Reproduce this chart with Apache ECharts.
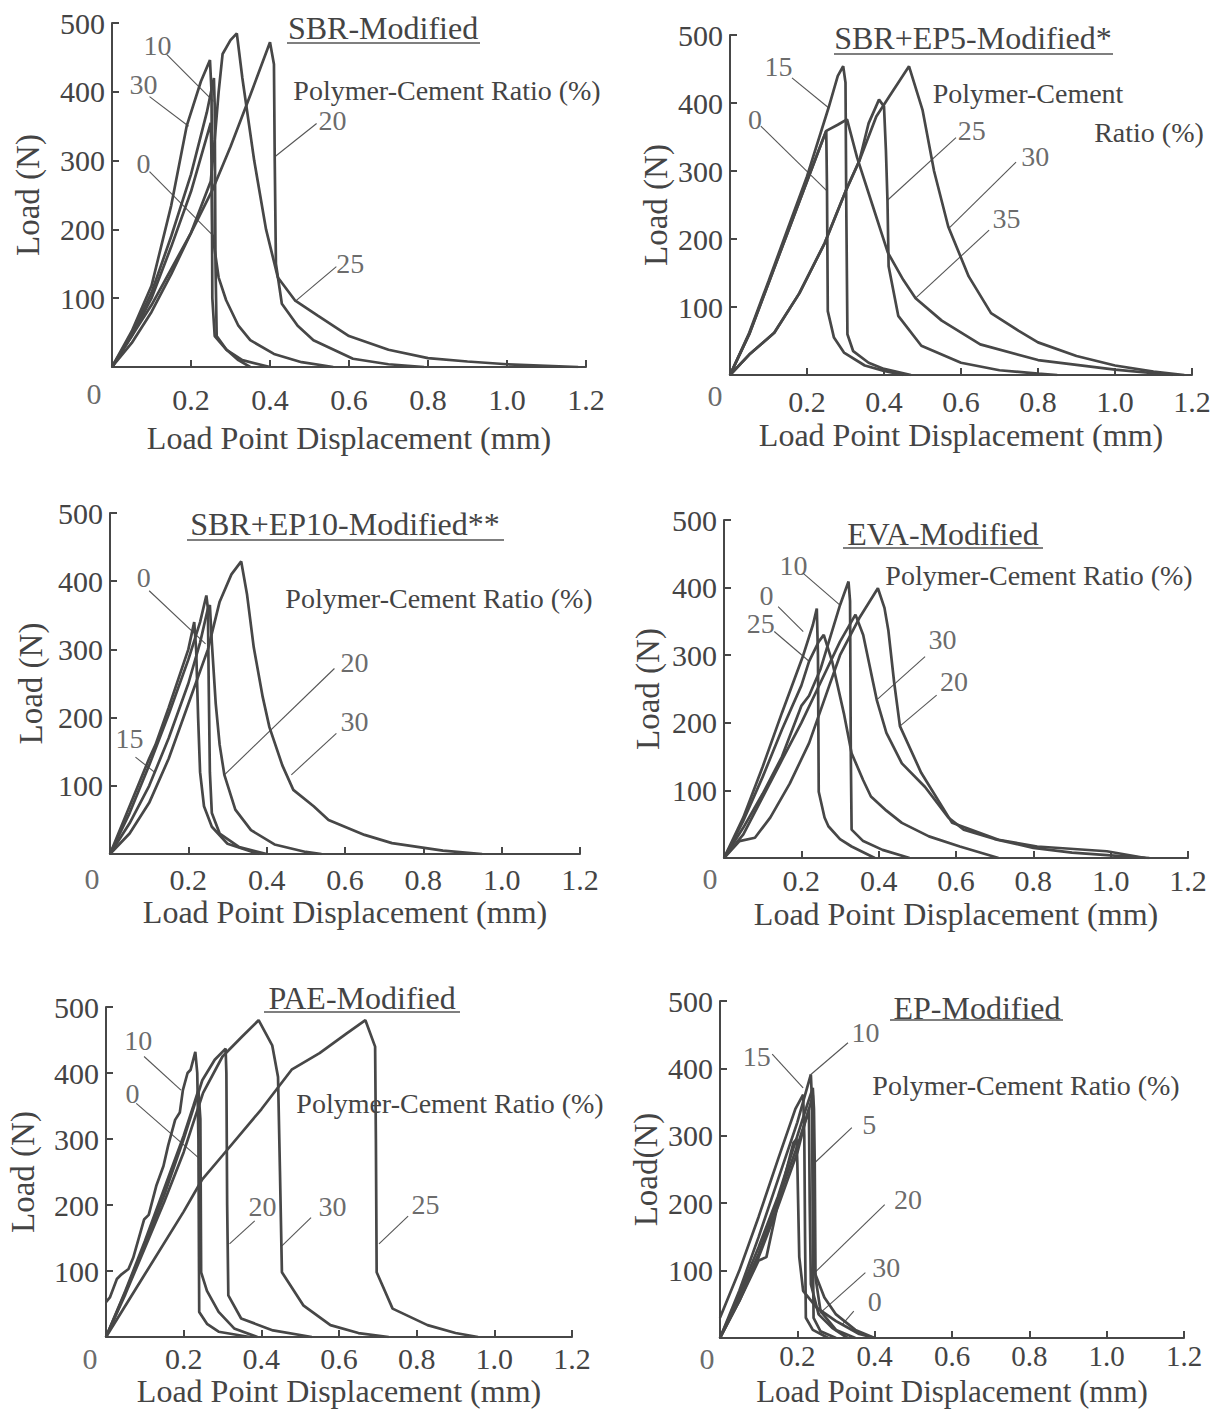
<!DOCTYPE html>
<html><head><meta charset="utf-8">
<script src="https://cdn.jsdelivr.net/npm/echarts@6/dist/echarts.min.js"></script>
<style>html,body{margin:0;padding:0;background:#fff}#c{width:1219px;height:1411px}</style>
</head><body><div id="c"></div>
<script>
// ---------- DATA ----------
const xTicks = [0, 0.2, 0.4, 0.6, 0.8, 1.0, 1.2];
const yTicks = [0, 100, 200, 300, 400, 500];
const titles = ['SBR-Modified', 'SBR+EP5-Modified*', 'SBR+EP10-Modified**', 'EVA-Modified', 'PAE-Modified', 'EP-Modified'];
const yNames = ['Load (N)', 'Load (N)', 'Load (N)', 'Load (N)', 'Load (N)', 'Load(N)'];
const xName = 'Load Point Displacement (mm)';
const ratioTexts = [['Polymer-Cement Ratio (%)'], ['Polymer-Cement', 'Ratio (%)'], ['Polymer-Cement Ratio (%)'], ['Polymer-Cement Ratio (%)'], ['Polymer-Cement Ratio (%)'], ['Polymer-Cement Ratio (%)']];

// Panel 1: SBR-Modified  [displacement mm, load N]
const sbr0  = [[0,0],[0.05,45],[0.1,100],[0.15,175],[0.2,255],[0.24,335],[0.25,355],[0.252,300],[0.254,194],[0.27,130],[0.289,97],[0.32,60],[0.35,39],[0.41,19],[0.48,7],[0.56,0]];
const sbr10 = [[0,0],[0.05,48],[0.1,108],[0.15,190],[0.2,280],[0.24,370],[0.258,420],[0.26,380],[0.262,150],[0.265,45],[0.29,25],[0.33,10],[0.4,0]];
const sbr20 = [[0,0],[0.1,90],[0.2,195],[0.254,257],[0.3,320],[0.35,395],[0.4,472],[0.41,440],[0.412,300],[0.415,150],[0.43,92],[0.47,60],[0.51,39],[0.61,12],[0.7,4],[0.79,0]];
const sbr25 = [[0,0],[0.05,35],[0.1,80],[0.15,135],[0.2,195],[0.25,270],[0.26,330],[0.27,400],[0.28,455],[0.3,475],[0.316,485],[0.33,420],[0.36,300],[0.39,200],[0.42,130],[0.463,97],[0.52,75],[0.6,45],[0.7,25],[0.8,13],[0.9,8],[1.0,4],[1.18,0]];
const sbr30 = [[0,0],[0.05,52],[0.1,118],[0.15,235],[0.189,350],[0.225,415],[0.248,446],[0.252,400],[0.254,100],[0.26,45],[0.29,25],[0.32,10],[0.35,0]];
const sbrNotes = [['10',0.115,468,0.139,454,0.257,386],['30',0.08,410,0.095,393,0.194,350],['0',0.08,296,0.095,284,0.254,192],['20',0.558,359,0.518,354,0.413,306],['25',0.603,150,0.568,146,0.463,95]];

// Panel 2: SBR+EP5-Modified*
const ep5_0  = [[0,0],[0.05,60],[0.1,135],[0.15,210],[0.2,285],[0.24,345],[0.25,359],[0.252,271],[0.254,94],[0.27,55],[0.296,33],[0.35,14],[0.4,6],[0.45,0]];
const ep5_15 = [[0,0],[0.05,62],[0.1,138],[0.15,215],[0.2,292],[0.256,393],[0.28,440],[0.294,454],[0.3,430],[0.302,250],[0.305,60],[0.32,35],[0.36,18],[0.4,9],[0.47,0]];
const ep5_25 = [[0,0],[0.05,30],[0.115,62],[0.18,120],[0.246,194],[0.3,270],[0.336,315],[0.36,370],[0.387,405],[0.4,395],[0.405,330],[0.409,257],[0.412,160],[0.437,87],[0.497,43],[0.6,18],[0.7,7],[0.8,2],[0.85,0]];
const ep5_30 = [[0,0],[0.05,30],[0.115,62],[0.18,120],[0.246,194],[0.3,270],[0.336,315],[0.38,380],[0.42,415],[0.465,454],[0.5,390],[0.53,300],[0.567,218],[0.62,145],[0.678,91],[0.75,65],[0.8,48],[0.9,28],[1.0,14],[1.1,5],[1.18,0]];
const ep5_35 = [[0,0],[0.05,60],[0.1,135],[0.15,210],[0.2,285],[0.25,359],[0.28,368],[0.304,376],[0.33,320],[0.37,250],[0.41,180],[0.45,140],[0.482,113],[0.55,80],[0.65,45],[0.8,22],[1.0,8],[1.15,0]];
const ep5Notes = [['15',0.126,454,0.161,437,0.256,393],['0',0.065,376,0.08,366,0.251,271],['25',0.628,359,0.587,349,0.409,257],['30',0.793,322,0.743,313,0.567,215],['35',0.718,230,0.673,213,0.482,113]];

// Panel 3: SBR+EP10-Modified**
const ep10_0  = [[0,0],[0.05,60],[0.1,130],[0.15,205],[0.2,285],[0.23,340],[0.246,379],[0.25,360],[0.252,250],[0.255,120],[0.26,60],[0.28,30],[0.33,10],[0.4,0]];
const ep10_15 = [[0,0],[0.05,70],[0.1,140],[0.116,160],[0.15,215],[0.2,300],[0.215,340],[0.22,300],[0.225,200],[0.23,120],[0.24,70],[0.26,40],[0.3,15],[0.38,0]];
const ep10_20 = [[0,0],[0.05,45],[0.1,100],[0.15,170],[0.2,250],[0.23,310],[0.25,360],[0.255,365],[0.26,310],[0.27,220],[0.28,160],[0.292,116],[0.32,65],[0.36,35],[0.42,14],[0.5,3],[0.54,0]];
const ep10_30 = [[0,0],[0.05,30],[0.1,75],[0.15,140],[0.2,220],[0.25,300],[0.28,370],[0.31,410],[0.335,429],[0.35,380],[0.367,303],[0.39,230],[0.407,186],[0.44,130],[0.468,94],[0.52,70],[0.558,50],[0.65,28],[0.72,16],[0.85,5],[0.95,0]];
const ep10Notes = [['0',0.086,406,0.1,386,0.244,308],['15',0.05,169,0.065,142,0.116,119],['20',0.624,281,0.573,272,0.292,116],['30',0.624,194,0.578,177,0.463,116]];

// Panel 4: EVA-Modified
const eva0  = [[0,0],[0.05,60],[0.1,135],[0.15,215],[0.205,300],[0.23,345],[0.24,369],[0.243,300],[0.245,98],[0.26,60],[0.27,47],[0.3,28],[0.33,17],[0.39,0]];
const eva10 = [[0,0],[0.05,45],[0.1,95],[0.15,150],[0.2,225],[0.22,240],[0.25,280],[0.3,374],[0.322,409],[0.326,380],[0.328,150],[0.33,42],[0.36,25],[0.41,12],[0.48,0]];
const eva20 = [[0,0],[0.04,25],[0.08,30],[0.12,60],[0.17,110],[0.22,170],[0.26,235],[0.3,300],[0.35,355],[0.398,399],[0.415,370],[0.425,337],[0.44,260],[0.455,195],[0.51,126],[0.59,52],[0.71,27],[0.81,17],[0.99,10],[1.09,0]];
const eva25 = [[0,0],[0.05,55],[0.1,120],[0.15,190],[0.2,255],[0.22,291],[0.245,320],[0.258,330],[0.28,290],[0.31,214],[0.33,155],[0.36,115],[0.38,91],[0.42,70],[0.46,52],[0.53,32],[0.61,17],[0.71,0]];
const eva30 = [[0,0],[0.05,35],[0.1,90],[0.15,145],[0.2,200],[0.25,260],[0.3,320],[0.34,360],[0.36,330],[0.38,275],[0.395,234],[0.42,185],[0.46,140],[0.52,105],[0.58,60],[0.62,42],[0.7,28],[0.8,15],[0.9,8],[1.0,4],[1.1,0]];
const evaNotes = [['10',0.18,433,0.205,421,0.3,374],['0',0.11,389,0.14,372,0.205,335],['25',0.095,347,0.13,335,0.22,291],['30',0.565,323,0.52,298,0.395,234],['20',0.595,261,0.55,241,0.455,195]];

// Panel 5: PAE-Modified
const pae0  = [[0,0],[0.05,70],[0.1,145],[0.15,225],[0.2,305],[0.225,350],[0.238,374],[0.243,330],[0.245,98],[0.26,70],[0.29,38],[0.33,13],[0.39,0]];
const pae10 = [[0,53],[0.01,60],[0.028,88],[0.04,95],[0.058,103],[0.07,120],[0.098,178],[0.11,185],[0.13,230],[0.148,259],[0.16,290],[0.178,329],[0.19,340],[0.198,374],[0.21,400],[0.218,405],[0.23,432],[0.235,400],[0.238,300],[0.24,38],[0.26,20],[0.29,8],[0.37,0]];
const pae20 = [[0,0],[0.05,68],[0.1,140],[0.15,215],[0.2,300],[0.248,389],[0.28,420],[0.308,437],[0.31,400],[0.312,200],[0.315,63],[0.348,28],[0.43,10],[0.53,0]];
const pae25 = [[0,0],[0.1,95],[0.2,190],[0.248,239],[0.3,275],[0.4,345],[0.478,405],[0.55,430],[0.62,460],[0.668,480],[0.693,440],[0.695,300],[0.697,98],[0.738,43],[0.828,18],[0.9,6],[0.958,0]];
const pae30 = [[0,0],[0.05,65],[0.1,135],[0.15,205],[0.2,280],[0.25,370],[0.3,425],[0.35,455],[0.393,480],[0.428,442],[0.443,394],[0.448,250],[0.453,98],[0.508,48],[0.578,18],[0.65,6],[0.728,0]];
const paeNotes = [['10',0.083,450,0.098,425,0.193,374],['0',0.068,369,0.078,354,0.243,269],['20',0.403,198,0.383,176,0.318,141],['30',0.583,198,0.528,181,0.453,138],['25',0.823,201,0.778,183,0.703,141]];

// Panel 6: EP-Modified
const epm0  = [[0,0],[0.05,55],[0.1,115],[0.12,120],[0.15,200],[0.19,290],[0.198,295],[0.2,260],[0.205,120],[0.215,70],[0.25,45],[0.3,25],[0.316,20],[0.36,6],[0.4,0]];
const epm5  = [[0,0],[0.05,65],[0.1,135],[0.15,210],[0.2,300],[0.225,345],[0.24,371],[0.243,340],[0.245,260],[0.247,90],[0.26,40],[0.3,12],[0.35,0]];
const epm10 = [[0,0],[0.05,70],[0.1,150],[0.15,235],[0.2,320],[0.235,391],[0.238,350],[0.24,150],[0.242,30],[0.26,10],[0.3,0]];
const epm15 = [[0,30],[0.05,100],[0.1,180],[0.15,265],[0.195,340],[0.215,361],[0.218,300],[0.22,150],[0.222,30],[0.24,12],[0.28,0]];
const epm20 = [[0,0],[0.05,60],[0.1,125],[0.15,205],[0.2,285],[0.228,335],[0.24,360],[0.243,200],[0.245,97],[0.27,60],[0.3,35],[0.35,12],[0.4,0]];
const epm30 = [[0,0],[0.05,55],[0.1,120],[0.15,195],[0.2,275],[0.22,320],[0.23,340],[0.232,200],[0.235,80],[0.255,35],[0.29,15],[0.33,0]];
const epmNotes = [['15',0.095,418,0.135,421,0.215,371],['10',0.376,453,0.331,438,0.235,391],['5',0.386,317,0.341,312,0.245,260],['20',0.486,205,0.426,198,0.245,97],['30',0.43,104,0.376,97,0.255,35],['0',0.4,54,0.346,40,0.316,20]];

const panelCurves = [
  [sbr0, sbr10, sbr20, sbr25, sbr30],
  [ep5_0, ep5_15, ep5_25, ep5_30, ep5_35],
  [ep10_0, ep10_15, ep10_20, ep10_30],
  [eva0, eva10, eva20, eva25, eva30],
  [pae0, pae10, pae20, pae25, pae30],
  [epm0, epm5, epm10, epm15, epm20, epm30]
];
const panelNotes = [sbrNotes, ep5Notes, ep10Notes, evaNotes, paeNotes, epmNotes];

// ---------- LAYOUT / STYLE ----------
const FONT = '"Liberation Serif","Times New Roman",serif';
const INK = '#474747';
const TXT = '#444';
const layout = [
  {left:112, top:23,   width:474, height:344, xNameGap:55, yNameGap:68, xLabelMargin:17, zero:[-18,26], title:[383,28,287,480,43],  ratio:[[447,90]]},
  {left:730, top:35,   width:462, height:340, xNameGap:44, yNameGap:58, xLabelMargin:11, zero:[-15,20], title:[973,38,834,1113,54], ratio:[[1028,93],[1149,132]]},
  {left:110, top:513,  width:470, height:341, xNameGap:42, yNameGap:63, xLabelMargin:10, zero:[-18,24], title:[345,524,187,504,540], ratio:[[439,598]]},
  {left:724, top:520,  width:464, height:338, xNameGap:40, yNameGap:60, xLabelMargin:7,  zero:[-14,20], title:[943,534,843,1043,548], ratio:[[1039,575]]},
  {left:106, top:1007, width:466, height:330, xNameGap:38, yNameGap:67, xLabelMargin:6,  zero:[-16,21], title:[362,998,264,460,1012], ratio:[[450,1103]]},
  {left:720, top:1001, width:464, height:337, xNameGap:38, yNameGap:58, xLabelMargin:3,  zero:[-13,20], title:[977,1008,890,1063,1020], ratio:[[1026,1085]], labelLH:29, labelFS:29, nameLH:31, nameFS:31}
];

const grids = [], xAxes = [], yAxes = [], series = [], graphics = [];
layout.forEach((L, i) => {
  grids.push({left:L.left, top:L.top, width:L.width, height:L.height, containLabel:false, outerBoundsMode:'none'});
  const nameStyle = {fontFamily:FONT, fontSize:L.nameFS || 32, color:TXT};
  if (L.nameLH) nameStyle.lineHeight = L.nameLH;
  const xLab = {formatter:v => v === 0 ? '' : v.toFixed(1), fontFamily:FONT, fontSize:L.labelFS || 30, color:TXT, margin:L.xLabelMargin, showMaxLabel:true};
  if (L.labelLH) xLab.lineHeight = L.labelLH;
  xAxes.push({
    gridIndex:i, type:'value', min:xTicks[0], max:xTicks[xTicks.length-1], interval:xTicks[1]-xTicks[0],
    name:xName, nameLocation:'middle', nameGap:L.xNameGap, nameMoveOverlap:false,
    nameTextStyle:nameStyle,
    axisLine:{lineStyle:{color:INK, width:2}},
    axisTick:{inside:true, length:7, lineStyle:{color:INK, width:2}},
    axisLabel:xLab,
    splitLine:{show:false}
  });
  yAxes.push({
    gridIndex:i, type:'value', min:yTicks[0], max:yTicks[yTicks.length-1], interval:yTicks[1]-yTicks[0],
    name:yNames[i], nameLocation:'middle', nameGap:L.yNameGap, nameRotate:90,
    nameTextStyle:{fontFamily:FONT, fontSize:33, color:TXT},
    axisLine:{show:true, lineStyle:{color:INK, width:2}},
    axisTick:{show:true, inside:true, length:7, lineStyle:{color:INK, width:2}},
    axisLabel:{formatter:v => v === 0 ? '' : String(v), fontFamily:FONT, fontSize:30, color:TXT, margin:7},
    splitLine:{show:false}
  });
  panelCurves[i].forEach(curve => {
    series.push({type:'line', xAxisIndex:i, yAxisIndex:i, data:curve, showSymbol:false, symbol:'none',
      lineStyle:{color:INK, width:2.7}, silent:true, z:3});
  });
  panelNotes[i].forEach(n => {
    series.push({type:'line', xAxisIndex:i, yAxisIndex:i, data:[[n[3], n[4]], [n[5], n[6]]], showSymbol:false, symbol:'none',
      lineStyle:{color:'#555', width:1.1}, silent:true, z:2});
  });
  series.push({type:'scatter', xAxisIndex:i, yAxisIndex:i, symbolSize:1, itemStyle:{color:'rgba(0,0,0,0)'}, silent:true, z:4,
    data:panelNotes[i].map(n => [n[1], n[2], n[0]]),
    label:{show:true, position:'inside', formatter:p => p.data[2], fontFamily:FONT, fontSize:28, color:TXT}});
  series.push({type:'scatter', xAxisIndex:i, yAxisIndex:i, symbolSize:1, itemStyle:{color:'rgba(0,0,0,0)'}, silent:true, z:4,
    data:[[xTicks[0], yTicks[0], '0']],
    label:{show:true, position:'inside', offset:L.zero, formatter:p => p.data[2], fontFamily:FONT, fontSize:30, color:TXT}});
  const T = L.title;
  graphics.push({type:'text', x:T[0], y:T[1], style:{text:titles[i], font:'32px ' + FONT, fill:TXT, align:'center', verticalAlign:'middle', textAlign:'center', textVerticalAlign:'middle'}});
  graphics.push({type:'line', shape:{x1:T[2], y1:T[4], x2:T[3], y2:T[4]}, style:{stroke:'#555', lineWidth:1.5}});
  L.ratio.forEach((r, k) => {
    graphics.push({type:'text', x:r[0], y:r[1], style:{text:ratioTexts[i][k], font:'28px ' + FONT, fill:TXT, align:'center', verticalAlign:'middle', textAlign:'center', textVerticalAlign:'middle'}});
  });
});

const chart = echarts.init(document.getElementById('c'), null, {renderer:'svg', width:1219, height:1411});
chart.setOption({
  animation:false,
  backgroundColor:'#ffffff',
  grid:grids, xAxis:xAxes, yAxis:yAxes, series:series, graphic:graphics
});
</script>
</body></html>
